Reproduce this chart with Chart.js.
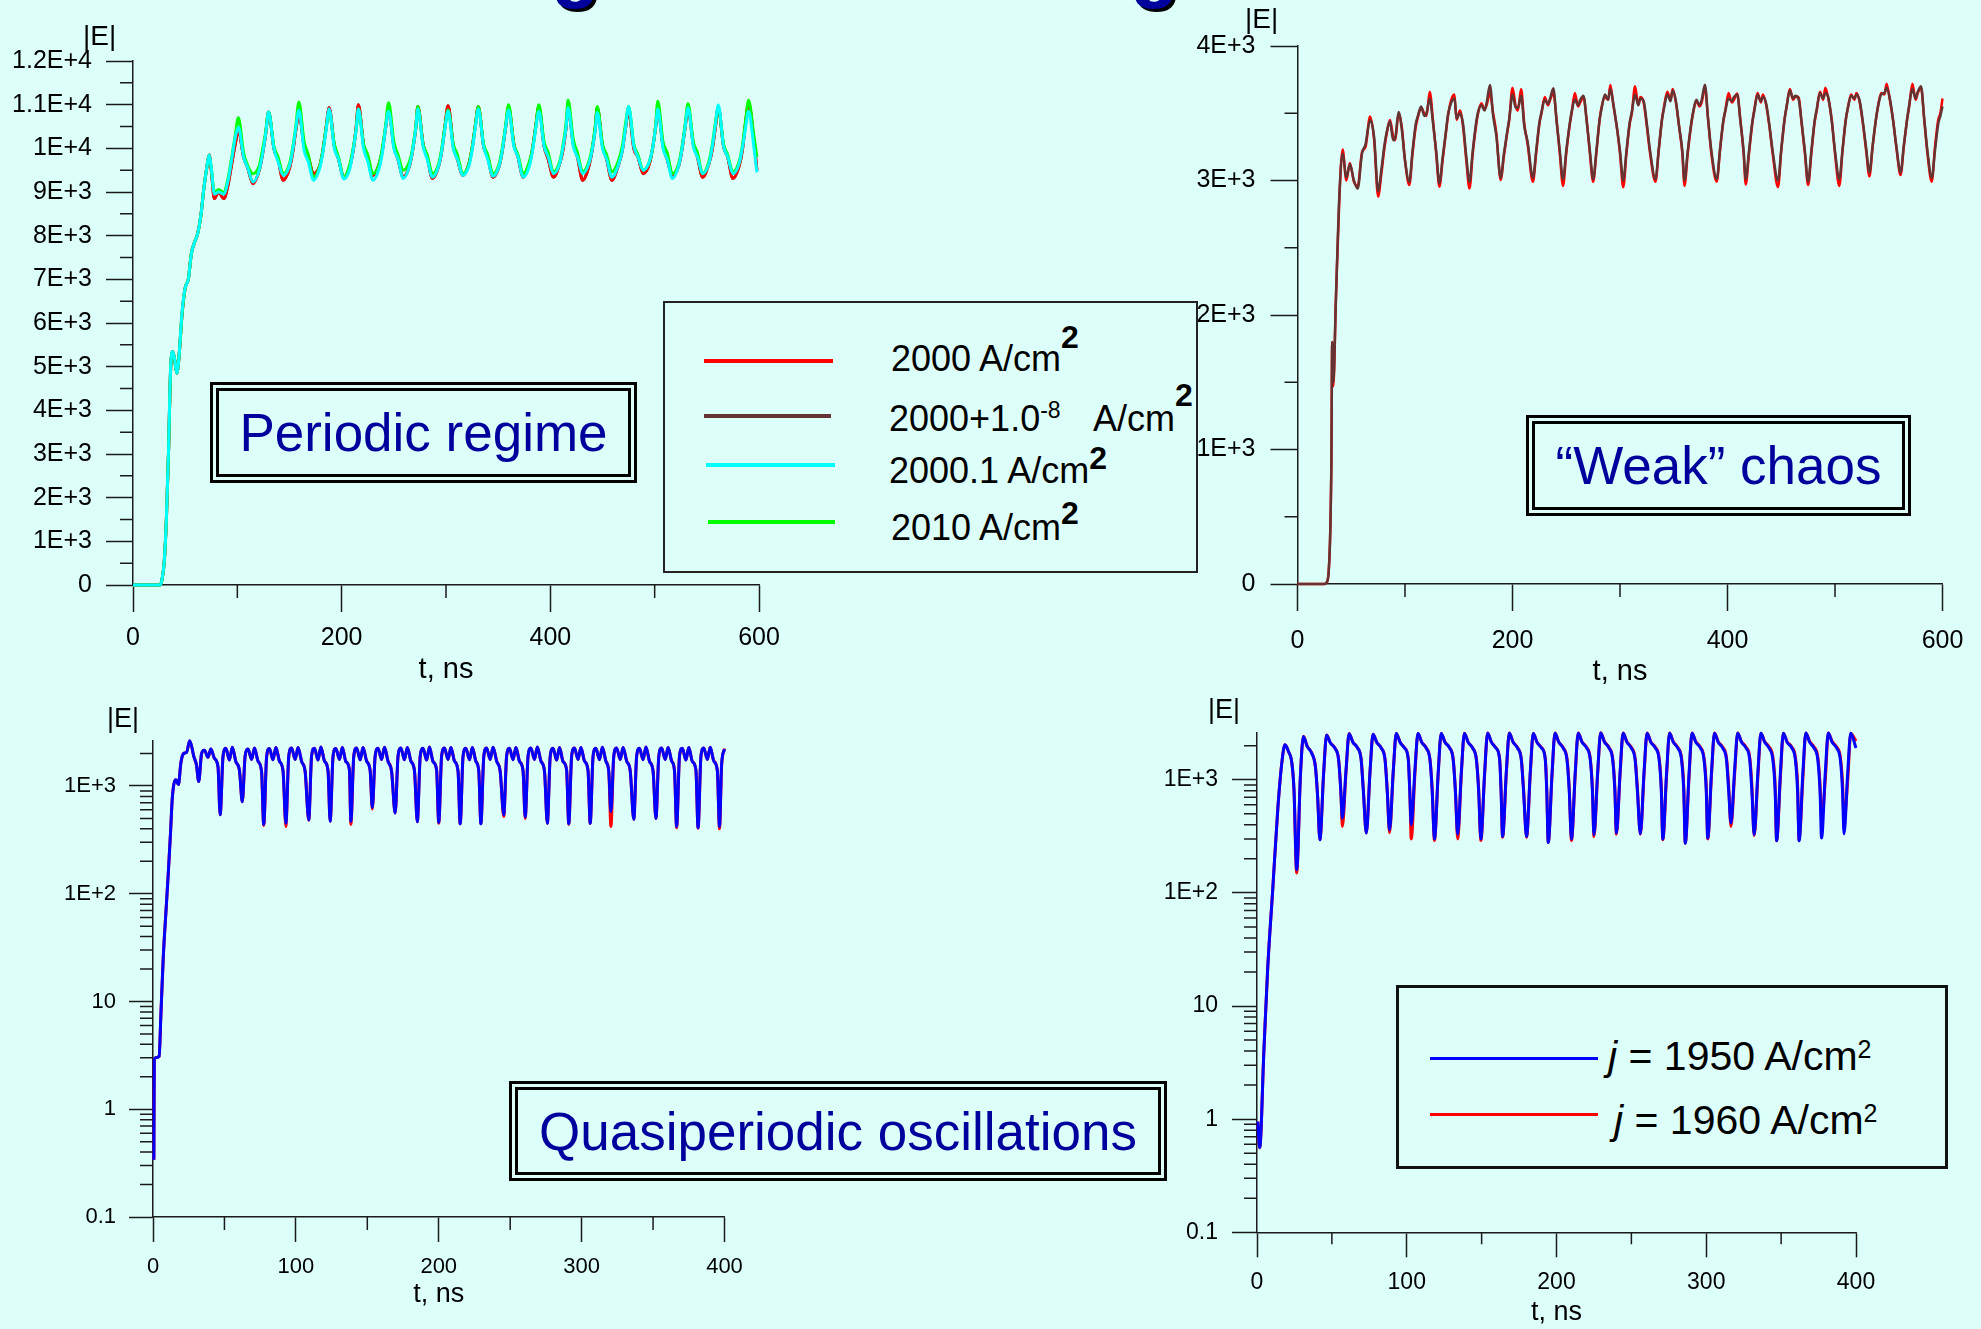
<!DOCTYPE html>
<html>
<head>
<meta charset="utf-8">
<title>|E|(t) regimes</title>
<script src="https://cdn.jsdelivr.net/npm/chart.js@4.4.1/dist/chart.umd.min.js"></script>
<style>
  html, body { margin: 0; padding: 0; }
  body {
    width: 1981px; height: 1329px; position: relative; overflow: hidden;
    background: #ddfff9; color: #000;
    font-family: 'Liberation Sans', Arial, sans-serif;
  }
  canvas { position: absolute; z-index: 1; }
  .txt { position: absolute; white-space: nowrap; line-height: 1; z-index: 4; }
  .sup { position: relative; vertical-align: baseline; }
  .note {
    position: absolute; box-sizing: border-box; z-index: 2;
    border: 9px double #000; background: #ddfff9; color: #00009c;
    font-size: 53px; white-space: nowrap;
    display: flex; align-items: center; justify-content: center;
  }
  .legend { position: absolute; box-sizing: border-box; z-index: 3; background: #ddfff9; }
  .swatch { position: absolute; z-index: 4; }
  .frag {
    position: absolute; top: -75px; font-size: 80px; line-height: 1; font-weight: bold;
    color: #00009c; text-shadow: 3px 3px 0 #000;
  }
</style>
</head>
<body>

<!-- bottoms of the cut-off page title -->
<div class="frag" style="left:551px">g</div>
<div class="frag" style="left:1130px">g</div>

<canvas id="p1" width="820" height="700" style="left:0px;top:0px"></canvas>
<canvas id="p2" width="831" height="700" style="left:1150px;top:0px"></canvas>
<canvas id="p3" width="800" height="639" style="left:0px;top:690px"></canvas>
<canvas id="p4" width="831" height="640" style="left:1150px;top:690px"></canvas>

<!-- |E| axis names -->
<div class="txt" style="left:83px;top:22px;font-size:28px">|E|</div>
<div class="txt" style="left:1245px;top:5px;font-size:28px">|E|</div>
<div class="txt" style="left:107px;top:705px;font-size:27px">|E|</div>
<div class="txt" style="left:1208px;top:696px;font-size:27px">|E|</div>

<!-- regime labels -->
<div class="note" style="left:210px;top:382px;width:427px;height:101px">Periodic regime</div>
<div class="note" style="left:1526px;top:415px;width:385px;height:101px">“Weak” chaos</div>
<div class="note" style="left:509px;top:1081px;width:658px;height:100px">Quasiperiodic oscillations</div>

<!-- legend, top-left panel -->
<div class="legend" style="left:663px;top:301px;width:535px;height:272px;border:2px solid #222"></div>
<div class="swatch" style="left:704px;top:359px;width:129px;height:4px;background:#ff0000"></div>
<div class="swatch" style="left:704px;top:414px;width:127px;height:4px;background:#663333"></div>
<div class="swatch" style="left:706px;top:463px;width:129px;height:4px;background:#00ffff"></div>
<div class="swatch" style="left:708px;top:520px;width:127px;height:4px;background:#00ff00"></div>
<div class="txt" style="left:891px;top:341px;font-size:36px">2000 A/cm<span class="sup" style="font-size:32px;font-weight:bold;top:-23px">2</span></div>
<div class="txt" style="left:889px;top:401px;font-size:36px">2000+1.0<span class="sup" style="font-size:23px;top:-13px">-8</span></div>
<div class="txt" style="left:1093px;top:401px;font-size:36px">A/cm<span class="sup" style="font-size:32px;font-weight:bold;top:-25px">2</span></div>
<div class="txt" style="left:889px;top:453px;font-size:36px">2000.1 A/cm<span class="sup" style="font-size:32px;font-weight:bold;top:-14px">2</span></div>
<div class="txt" style="left:891px;top:510px;font-size:36px">2010 A/cm<span class="sup" style="font-size:32px;font-weight:bold;top:-16px">2</span></div>

<!-- legend, bottom-right panel -->
<div class="legend" style="left:1396px;top:985px;width:552px;height:184px;border:3px solid #111"></div>
<div class="swatch" style="left:1430px;top:1057px;width:168px;height:3px;background:#0000ff"></div>
<div class="swatch" style="left:1430px;top:1113px;width:168px;height:3px;background:#ff0000"></div>
<div class="txt" style="left:1608px;top:1036px;font-size:41px"><i>j</i> = 1950 A/cm<span class="sup" style="font-size:25px;top:-12px">2</span></div>
<div class="txt" style="left:1614px;top:1100px;font-size:41px"><i>j</i> = 1960 A/cm<span class="sup" style="font-size:25px;top:-12px">2</span></div>

<script>
// ---------- top-left: periodic regime ----------
const p1Time = [
    0, 20, 26, 28, 30, 32, 34, 36, 38, 40, 42, 44, 47, 50, 53, 56, 59, 62, 65, 68, 71, 73, 75, 78, 82, 87, 91, 95, 98,
    101, 106, 110, 115, 121, 124, 127,
    130, 135, 139, 144, 150, 153, 156,
    159, 164, 168, 173, 179, 182, 185,
    188, 193, 197, 202, 208, 211, 214,
    216, 221, 225, 230, 236, 239, 242,
    245, 250, 254, 259, 265, 268, 271,
    273, 278, 282, 287, 293, 296, 299,
    302, 307, 311, 316, 322, 325, 328,
    331, 336, 340, 345, 351, 354, 357,
    360, 365, 369, 374, 380, 383, 386,
    389, 394, 398, 403, 409, 412, 415,
    417, 422, 426, 431, 437, 440, 443,
    445, 450, 454, 459, 465, 469, 472,
    475, 480, 484, 489, 495, 498, 501,
    503, 508, 512, 517, 523, 526, 529,
    532, 537, 541, 546, 552, 555, 558,
    561, 566, 570, 575, 581, 584, 587,
    590, 595, 598
];
const p1Red = [
    0, 0, 0, 150, 550, 1500, 3000, 4900, 5350, 5150, 4850, 5200, 6200, 6800, 7000, 7600, 7850, 8050, 8450, 9100, 9600, 9850, 9500, 8850, 9000, 8850, 9150, 9700, 10100,
    10412, 9800, 9550, 9190, 9500, 9850, 10300,
    10830, 10000, 9750, 9270, 9550, 9900, 10400,
    10800, 10050, 9800, 9420, 9600, 9950, 10450,
    10930, 10050, 9750, 9340, 9600, 9950, 10500,
    11000, 10070, 9800, 9380, 9650, 9950, 10450,
    10870, 10050, 9750, 9340, 9600, 9950, 10450,
    10960, 10100, 9800, 9310, 9600, 9950, 10500,
    10975, 10050, 9750, 9380, 9650, 10000, 10500,
    10950, 10050, 9800, 9340, 9600, 9950, 10450,
    10930, 10100, 9800, 9340, 9650, 10000, 10500,
    10950, 10050, 9750, 9340, 9650, 9950, 10450,
    10930, 10100, 9800, 9270, 9600, 9950, 10450,
    10930, 10050, 9750, 9270, 9600, 9950, 10450,
    10870, 10000, 9800, 9420, 9650, 10000, 10500,
    10930, 10050, 9750, 9380, 9600, 9950, 10450,
    10900, 10100, 9800, 9340, 9650, 9950, 10450,
    10930, 10050, 9800, 9310, 9600, 9950, 10550,
    11030, 10200, 9500
];
// 2000 + 1e-8 A/cm2 coincides with the red curve everywhere on this scale
const p1Brown = p1Red;
const p1Cyan = [
    0, 0, 0, 150, 560, 1520, 3050, 4950, 5350, 5150, 4850, 5200, 6250, 6800, 7000, 7600, 7850, 8050, 8450, 9100, 9600, 9850, 9550, 8950, 9000, 8950, 9250, 9800, 10250,
    10490, 9800, 9550, 9230, 9500, 9850, 10300,
    10830, 10000, 9700, 9380, 9600, 9950, 10450,
    10870, 9950, 9700, 9270, 9550, 9900, 10400,
    10900, 10000, 9750, 9300, 9550, 9950, 10450,
    10900, 10000, 9700, 9270, 9550, 9900, 10450,
    10850, 10000, 9750, 9310, 9600, 9950, 10450,
    10900, 10050, 9750, 9340, 9600, 9950, 10450,
    10855, 10000, 9750, 9380, 9600, 9950, 10450,
    10900, 10050, 9750, 9360, 9600, 9950, 10450,
    10880, 10050, 9800, 9340, 9600, 9950, 10450,
    10850, 10050, 9800, 9420, 9650, 10000, 10450,
    10930, 10050, 9800, 9420, 9650, 9950, 10400,
    10820, 10000, 9750, 9340, 9600, 9950, 10450,
    10960, 10050, 9800, 9500, 9700, 10000, 10500,
    10900, 10000, 9750, 9310, 9600, 9950, 10450,
    10930, 10050, 9800, 9420, 9650, 10000, 10500,
    10990, 10050, 9800, 9420, 9650, 10000, 10450,
    10850, 10050, 9450
];
const p1Green = [
    0, 0, 0, 150, 550, 1500, 3000, 4900, 5350, 5150, 4850, 5200, 6200, 6800, 7000, 7600, 7850, 8050, 8450, 9100, 9600, 9850, 9550, 9000, 9050, 9000, 9300, 9850, 10300,
    10700, 9900, 9600, 9420, 9600, 9950, 10350,
    10830, 10050, 9800, 9420, 9650, 10000, 10500,
    11060, 10150, 9850, 9340, 9600, 9950, 10450,
    10830, 10100, 9800, 9340, 9650, 10000, 10450,
    10900, 10100, 9850, 9420, 9650, 10000, 10500,
    11045, 10150, 9850, 9500, 9700, 10000, 10500,
    10960, 10100, 9850, 9420, 9650, 10000, 10500,
    10880, 10100, 9850, 9420, 9650, 10000, 10500,
    10950, 10100, 9850, 9420, 9650, 10000, 10500,
    11000, 10100, 9850, 9420, 9700, 10000, 10500,
    11000, 10150, 9900, 9460, 9700, 10050, 10550,
    11100, 10200, 9900, 9460, 9700, 10000, 10500,
    10960, 10100, 9850, 9460, 9700, 10050, 10550,
    10960, 10100, 9850, 9500, 9700, 10000, 10550,
    11080, 10150, 9900, 9420, 9650, 10000, 10500,
    11020, 10150, 9900, 9420, 9700, 10050, 10550,
    10930, 10100, 9850, 9460, 9700, 10050, 10600,
    11100, 10300, 9800
];
const p1XTicks = [0, 200, 400, 600];
const p1XMinor = [100, 300, 500];
const p1YTicks = [0, 1000, 2000, 3000, 4000, 5000, 6000, 7000, 8000, 9000, 10000, 11000, 12000];
const p1YLabels = ['0', '1E+3', '2E+3', '3E+3', '4E+3', '5E+3', '6E+3', '7E+3', '8E+3', '9E+3', '1E+4', '1.1E+4', '1.2E+4'];
const p1YMinor = [500, 1500, 2500, 3500, 4500, 5500, 6500, 7500, 8500, 9500, 10500, 11500];

// ---------- top-right: "weak" chaos ----------
const p2Time = [
    0, 22, 25, 27, 29, 30.5, 31.5, 32.3, 33.3, 35.7, 39, 42, 45.4, 48.7, 52.5, 56, 60, 63.3, 67.5, 71.3,
    75, 78, 81, 83, 86, 89, 91, 94, 97, 100,
    104, 107, 110, 112, 115, 118, 120, 123, 126, 129,
    132, 135, 138, 140, 143, 146, 148, 151, 154, 157,
    160, 163, 166, 168, 171, 174, 176, 179, 182, 185,
    189, 192, 195, 197, 200, 203, 205, 208, 211, 214,
    219, 222, 225, 227, 230, 233, 235, 238, 241, 244,
    247, 250, 253, 255, 258, 261, 263, 266, 269, 272,
    275, 278, 281, 283, 286, 289, 291, 294, 297, 300,
    303, 306, 309, 311, 314, 317, 319, 322, 325, 328,
    333, 336, 339, 341, 344, 347, 349, 352, 355, 358,
    360, 363, 366, 368, 371, 374, 376, 379, 382, 385,
    390, 393, 396, 398, 401, 404, 406, 409, 412, 415,
    417, 420, 423, 425, 428, 431, 433, 436, 439, 442,
    447, 450, 453, 455, 458, 461, 463, 466, 469, 472,
    475, 478, 481, 483, 486, 489, 491, 494, 497, 500,
    504, 507, 510, 512, 515, 518, 520, 523, 526, 529,
    532, 535, 538, 540, 543, 546, 548, 551, 554, 557,
    561, 564, 567, 569, 572, 575, 577, 580, 583, 586,
    590, 593, 596, 598, 600
];
const p2Red = [
    0, 0, 0, 10, 90, 400, 900, 1800, 1470, 2110, 2880, 3230, 3000, 3130, 2990, 2960, 3210, 3250, 3475, 3300,
    2880, 3050, 3250, 3350, 3450, 3330, 3300, 3500, 3400, 3150,
    2966, 3200, 3400, 3470, 3540, 3500, 3480, 3660, 3450, 3200,
    2954, 3150, 3350, 3480, 3600, 3640, 3450, 3520, 3400, 3150,
    2940, 3200, 3400, 3500, 3575, 3530, 3560, 3650, 3500, 3350,
    3004, 3180, 3350, 3450, 3690, 3550, 3520, 3680, 3420, 3275,
    2990, 3200, 3420, 3500, 3620, 3560, 3600, 3650, 3450, 3200,
    2960, 3200, 3400, 3500, 3650, 3550, 3580, 3620, 3450, 3200,
    2990, 3200, 3450, 3550, 3620, 3600, 3710, 3550, 3400, 3200,
    2950, 3200, 3420, 3500, 3700, 3560, 3620, 3580, 3400, 3200,
    2990, 3220, 3450, 3550, 3660, 3600, 3680, 3580, 3400, 3200,
    2960, 3200, 3400, 3500, 3590, 3550, 3580, 3690, 3450, 3200,
    2990, 3220, 3430, 3520, 3650, 3580, 3600, 3647, 3450, 3200,
    2970, 3200, 3420, 3530, 3650, 3580, 3640, 3560, 3400, 3200,
    2950, 3220, 3450, 3550, 3680, 3600, 3620, 3620, 3420, 3200,
    2966, 3200, 3430, 3520, 3660, 3600, 3690, 3600, 3450, 3200,
    2960, 3220, 3450, 3540, 3640, 3600, 3650, 3580, 3420, 3220,
    3030, 3250, 3450, 3550, 3650, 3640, 3720, 3600, 3450, 3250,
    3040, 3250, 3450, 3550, 3720, 3600, 3650, 3690, 3450, 3200,
    2990, 3250, 3450, 3500, 3610
];
const p2Brown = [
    0, 0, 0, 10, 90, 400, 900, 1800, 1500, 2110, 2900, 3200, 3020, 3120, 3000, 2940, 3200, 3270, 3450, 3320,
    2920, 3080, 3270, 3360, 3440, 3300, 3320, 3510, 3380, 3150,
    2990, 3220, 3420, 3480, 3550, 3480, 3500, 3610, 3430, 3220,
    2980, 3170, 3360, 3490, 3580, 3610, 3460, 3500, 3420, 3180,
    2990, 3220, 3420, 3510, 3560, 3520, 3580, 3710, 3480, 3330,
    3020, 3200, 3360, 3460, 3640, 3540, 3540, 3630, 3400, 3290,
    3020, 3220, 3430, 3510, 3600, 3570, 3610, 3685, 3440, 3220,
    3010, 3220, 3410, 3510, 3600, 3560, 3600, 3630, 3440, 3220,
    3010, 3220, 3450, 3540, 3640, 3600, 3680, 3560, 3400, 3220,
    3000, 3220, 3430, 3510, 3640, 3560, 3610, 3590, 3420, 3220,
    3010, 3230, 3450, 3540, 3640, 3590, 3670, 3590, 3400, 3220,
    3000, 3220, 3410, 3510, 3600, 3560, 3600, 3711, 3450, 3220,
    3010, 3230, 3440, 3520, 3610, 3590, 3620, 3640, 3440, 3220,
    3010, 3220, 3430, 3520, 3640, 3590, 3620, 3570, 3410, 3220,
    3000, 3230, 3450, 3550, 3670, 3610, 3630, 3610, 3430, 3220,
    2990, 3220, 3440, 3530, 3650, 3610, 3650, 3610, 3440, 3220,
    3010, 3230, 3450, 3540, 3630, 3610, 3640, 3590, 3430, 3240,
    3060, 3260, 3450, 3550, 3640, 3650, 3690, 3610, 3450, 3260,
    3060, 3260, 3450, 3560, 3680, 3610, 3660, 3700, 3460, 3220,
    3020, 3220, 3420, 3480, 3550
];
const p2XTicks = [0, 200, 400, 600];
const p2XMinor = [100, 300, 500];
const p2YTicks = [0, 1000, 2000, 3000, 4000];
const p2YLabels = ['0', '1E+3', '2E+3', '3E+3', '4E+3'];
const p2YMinor = [500, 1500, 2500, 3500];

// ---------- bottom-left: quasiperiodic oscillations ----------
const p3Time = [
    0.6, 0.9, 1.8, 4.3, 5.5, 7.2, 9, 10.7, 12.2, 13.6, 16, 17.8, 19.5, 21.4, 23.5, 25.7, 28.6, 30.4,
    32, 34, 36, 38.5, 40.5, 43, 45.5,
    47, 49, 51, 53.5, 55.5, 58, 60.5,
    62.5, 64.5, 66.5, 69, 71, 73.5, 76,
    77.5, 79.5, 81.5, 84, 86, 88.5, 91,
    93, 95, 97, 99.5, 101.5, 104, 106.5,
    109, 111, 113, 115.5, 117.5, 120, 122.5,
    124, 126, 128, 130.5, 132.5, 135, 137.5,
    138.5, 140.5, 142.5, 145, 147, 149.5, 152,
    153.5, 155.5, 157.5, 160, 162, 164.5, 167,
    169.5, 171.5, 173.5, 176, 178, 180.5, 183,
    185, 187, 189, 191.5, 193.5, 196, 198.5,
    200, 202, 204, 206.5, 208.5, 211, 213.5,
    215, 217, 219, 221.5, 223.5, 226, 228,
    229.5, 231.5, 233.5, 236, 238, 240.5, 243,
    245.5, 247.5, 249.5, 252, 254, 256.5, 259,
    260.5, 262.5, 264.5, 267, 269, 271.5, 274,
    276, 278, 280, 282.5, 284.5, 287, 289.5,
    291, 293, 295, 297.5, 299.5, 302, 304.5,
    306, 308, 310, 312.5, 314.5, 317, 319,
    320.5, 322.5, 324.5, 327, 329, 331.5, 334,
    336.5, 338.5, 340.5, 343, 345, 347.5, 350,
    352, 354, 356, 358.5, 360.5, 363, 365,
    366.5, 368.5, 370.5, 373, 375, 377.5, 380,
    381.5, 383.5, 385.5, 388, 390, 392.5, 395,
    396.5, 398, 400
];
const p3Blue = [
    0.34, 2.9, 3.0, 3.1, 7.4, 26, 66, 155, 355, 800, 1140, 1030, 1630, 2000, 2050, 2630, 1870, 1570,
    1100, 2000, 2150, 1850, 2200, 1800, 1500,
    540, 1870, 2240, 1740, 2290, 1680, 1400,
    715, 1900, 2200, 1760, 2250, 1700, 1350,
    440, 1850, 2230, 1750, 2280, 1700, 1380,
    450, 1880, 2250, 1760, 2270, 1690, 1350,
    485, 1900, 2240, 1740, 2300, 1700, 1380,
    470, 1870, 2230, 1760, 2280, 1680, 1400,
    470, 1880, 2250, 1750, 2270, 1700, 1380,
    630, 1900, 2240, 1760, 2290, 1690, 1360,
    560, 1880, 2250, 1750, 2280, 1700, 1380,
    465, 1870, 2240, 1740, 2300, 1680, 1400,
    460, 1890, 2250, 1760, 2280, 1700, 1370,
    445, 1880, 2240, 1750, 2270, 1690, 1380,
    445, 1870, 2250, 1760, 2290, 1700, 1360,
    540, 1900, 2240, 1750, 2280, 1690, 1380,
    515, 1880, 2250, 1760, 2300, 1700, 1370,
    450, 1870, 2240, 1740, 2280, 1680, 1400,
    445, 1890, 2250, 1760, 2270, 1700, 1380,
    450, 1880, 2240, 1750, 2290, 1690, 1360,
    580, 1900, 2250, 1760, 2280, 1700, 1380,
    490, 1880, 2240, 1750, 2300, 1690, 1370,
    500, 1870, 2250, 1760, 2280, 1700, 1380,
    420, 1890, 2240, 1740, 2270, 1680, 1400,
    410, 1880, 2250, 1760, 2290, 1700, 1380,
    420, 1600, 2200
];
const p3Red = [
    0.34, 2.9, 3.0, 3.1, 7.4, 26, 66, 155, 355, 800, 1140, 1030, 1630, 2000, 2050, 2630, 1870, 1570,
    1100, 2000, 2150, 1850, 2200, 1800, 1500,
    540, 1870, 2240, 1740, 2290, 1680, 1400,
    715, 1900, 2200, 1760, 2250, 1700, 1350,
    430, 1840, 2230, 1750, 2280, 1700, 1380,
    420, 1860, 2250, 1760, 2270, 1690, 1360,
    480, 1890, 2240, 1740, 2300, 1710, 1390,
    470, 1860, 2230, 1760, 2280, 1690, 1410,
    440, 1860, 2250, 1750, 2270, 1710, 1390,
    610, 1890, 2240, 1760, 2290, 1700, 1370,
    560, 1870, 2250, 1750, 2280, 1710, 1390,
    465, 1860, 2240, 1740, 2300, 1690, 1410,
    450, 1880, 2250, 1760, 2280, 1710, 1380,
    445, 1870, 2240, 1750, 2270, 1700, 1390,
    445, 1860, 2250, 1760, 2290, 1710, 1370,
    520, 1890, 2240, 1750, 2280, 1700, 1390,
    500, 1870, 2250, 1760, 2300, 1710, 1380,
    450, 1860, 2240, 1740, 2280, 1690, 1410,
    440, 1880, 2250, 1760, 2270, 1710, 1390,
    450, 1870, 2240, 1750, 2290, 1700, 1370,
    420, 1860, 2250, 1760, 2280, 1710, 1390,
    490, 1870, 2240, 1750, 2300, 1700, 1380,
    500, 1860, 2250, 1760, 2280, 1710, 1390,
    410, 1880, 2240, 1740, 2270, 1690, 1410,
    405, 1870, 2250, 1760, 2290, 1710, 1390,
    400, 1550, 2230
];
const p3XTicks = [0, 100, 200, 300, 400];
const p3XMinor = [50, 150, 250, 350];
const logYTicks = [0.1, 1, 10, 100, 1000];
const logYLabels = ['0.1', '1', '10', '1E+2', '1E+3'];
const logYMinor = [0.2, 0.3, 0.4, 0.5, 0.6, 0.7, 0.8, 0.9, 2, 3, 4, 5, 6, 7, 8, 9,
    20, 30, 40, 50, 60, 70, 80, 90, 200, 300, 400, 500, 600, 700, 800, 900, 2000];

// ---------- bottom-right: j = 1950 / 1960 A/cm2 ----------
const p4Time = [
    0.5, 1.8, 4.6, 7.1, 10.5, 14, 16.8, 18.7, 21, 23.3, 24.7,
    26.5, 29, 31, 33.5, 36.5, 39, 40.5,
    42, 44.5, 46.5, 49, 52, 54.5, 56,
    57, 59.5, 61.5, 64, 67, 69.5, 71,
    73, 75.5, 77.5, 80, 83, 85.5, 87,
    88.5, 91, 93, 95.5, 98.5, 101, 102,
    103, 105.5, 107.5, 110, 113, 115.5, 117,
    118.5, 121, 123, 125.5, 128.5, 131, 132.5,
    134, 136.5, 138.5, 141, 144, 146.5, 148,
    149.5, 152, 154, 156.5, 159.5, 162, 163,
    164, 166.5, 168.5, 171, 174, 176.5, 178,
    180, 182.5, 184.5, 187, 190, 192.5, 193.5,
    194.5, 197, 199, 201.5, 204.5, 207, 208.5,
    210, 212.5, 214.5, 217, 220, 222.5, 224,
    225, 227.5, 229.5, 232, 235, 237.5, 239,
    240, 242.5, 244.5, 247, 250, 252.5, 254,
    256, 258.5, 260.5, 263, 266, 268.5, 270,
    271, 273.5, 275.5, 278, 281, 283.5, 285,
    286, 288.5, 290.5, 293, 296, 298.5, 300,
    301, 303.5, 305.5, 308, 311, 313.5, 315,
    316.5, 319, 321, 323.5, 326.5, 329, 330.5,
    332, 334.5, 336.5, 339, 342, 344.5, 346,
    347, 349.5, 351.5, 354, 357, 359.5, 361,
    362, 364.5, 366.5, 369, 372, 374.5, 376,
    377, 379.5, 381.5, 384, 387, 389.5, 391,
    392, 394.5, 396.5, 400
];
const p4Blue = [
    0.95, 0.56, 4, 21, 107, 580, 1500, 2040, 1780, 1400, 816,
    160, 1100, 2415, 1970, 1720, 1300, 700,
    295, 1150, 2480, 2110, 1900, 1500, 780,
    458, 1250, 2550, 2150, 1920, 1520, 800,
    338, 1200, 2520, 2130, 1900, 1500, 780,
    361, 1200, 2560, 2150, 1910, 1520, 800,
    400, 1250, 2560, 2140, 1900, 1500, 790,
    299, 1150, 2560, 2150, 1920, 1510, 780,
    330, 1200, 2570, 2140, 1900, 1500, 800,
    299, 1150, 2580, 2150, 1910, 1520, 780,
    315, 1180, 2580, 2150, 1900, 1500, 790,
    315, 1180, 2560, 2140, 1910, 1510, 780,
    279, 1120, 2580, 2150, 1900, 1500, 800,
    299, 1150, 2580, 2150, 1920, 1520, 790,
    327, 1180, 2590, 2160, 1910, 1510, 780,
    338, 1200, 2580, 2150, 1900, 1500, 800,
    333, 1200, 2580, 2140, 1910, 1520, 790,
    299, 1150, 2580, 2150, 1900, 1500, 780,
    275, 1120, 2580, 2150, 1920, 1510, 800,
    305, 1160, 2580, 2140, 1900, 1500, 790,
    414, 1250, 2580, 2150, 1910, 1520, 780,
    327, 1180, 2580, 2150, 1900, 1500, 800,
    289, 1140, 2580, 2140, 1920, 1510, 790,
    289, 1140, 2590, 2150, 1900, 1500, 780,
    305, 1160, 2590, 2150, 1910, 1520, 800,
    333, 1180, 2580, 1905
];
const p4Red = [
    0.95, 0.56, 4, 21, 107, 580, 1500, 2040, 1780, 1400, 816,
    150, 1080, 2420, 1980, 1730, 1310, 710,
    295, 1140, 2490, 2120, 1910, 1510, 790,
    386, 1200, 2560, 2160, 1930, 1540, 830,
    338, 1190, 2530, 2140, 1910, 1520, 800,
    340, 1180, 2570, 2160, 1920, 1540, 830,
    300, 1150, 2570, 2150, 1910, 1520, 820,
    290, 1130, 2570, 2160, 1930, 1530, 810,
    300, 1150, 2580, 2150, 1910, 1530, 840,
    290, 1120, 2590, 2160, 1920, 1550, 820,
    310, 1150, 2590, 2160, 1920, 1530, 830,
    310, 1140, 2570, 2150, 1930, 1540, 830,
    279, 1090, 2590, 2160, 1920, 1540, 850,
    290, 1110, 2590, 2170, 1940, 1560, 840,
    315, 1130, 2600, 2180, 1930, 1550, 840,
    330, 1140, 2590, 2170, 1930, 1550, 860,
    330, 1140, 2590, 2160, 1940, 1570, 860,
    295, 1090, 2590, 2170, 1930, 1560, 860,
    275, 1060, 2590, 2180, 1950, 1570, 880,
    300, 1090, 2590, 2170, 1940, 1570, 880,
    386, 1150, 2590, 2180, 1950, 1590, 880,
    320, 1080, 2580, 2180, 1950, 1580, 900,
    289, 1040, 2580, 2170, 1960, 1590, 900,
    289, 1020, 2590, 2190, 1950, 1590, 900,
    443, 1000, 2590, 2190, 1960, 1610, 940,
    428, 1000, 2560, 2200
];
const p4XTicks = [0, 100, 200, 300, 400];
const p4XMinor = [50, 150, 250, 350];

// ---------- drawing ----------
const axisColor = '#1a1a1a';
const fontFamily = "'Liberation Sans', Arial, sans-serif";

Chart.defaults.color = '#000';
Chart.defaults.font.family = fontFamily;

// Short unlabeled ticks between the labeled ones
const minorTicks = {
    id: 'minorTicks',
    afterDraw: (chart, args, opts) => {
        const ctx = chart.ctx;
        const area = chart.chartArea;
        const xs = chart.scales.x;
        const ys = chart.scales.y;
        ctx.save();
        ctx.strokeStyle = axisColor;
        ctx.lineWidth = 1.5;
        ctx.beginPath();
        opts.x.forEach(v => {
            const px = xs.getPixelForValue(v);
            ctx.moveTo(px, area.bottom);
            ctx.lineTo(px, area.bottom + opts.xLen);
        });
        opts.y.forEach(v => {
            const py = ys.getPixelForValue(v);
            ctx.moveTo(area.left, py);
            ctx.lineTo(area.left - opts.yLen, py);
        });
        ctx.stroke();
        ctx.restore();
    }
};

const points = (times, values) => times.map((t, i) => ({ x: t, y: values[i] }));

const buildPanel = (id, p) => {
    return new Chart(document.getElementById(id), {
        type: 'line',
        data: {
            datasets: p.series.map(s => ({
                data: points(p.time, s.values),
                borderColor: s.color,
                borderWidth: p.lineWidth,
                pointRadius: 0,
                fill: false,
                clip: false,
                cubicInterpolationMode: 'monotone'
            }))
        },
        options: {
            responsive: false,
            animation: false,
            devicePixelRatio: 1,
            events: [],
            layout: { padding: p.padding },
            plugins: {
                legend: { display: false },
                tooltip: { enabled: false },
                minorTicks: { x: p.xMinor, y: p.yMinor, xLen: p.xMinorLen, yLen: p.yMinorLen }
            },
            scales: {
                x: {
                    type: 'linear',
                    min: p.xTicks[0],
                    max: p.xTicks[p.xTicks.length - 1],
                    bounds: 'data',
                    afterBuildTicks: s => { s.ticks = p.xTicks.map(v => ({ value: v })); },
                    afterFit: s => { s.height = p.xAxisHeight; },
                    ticks: {
                        autoSkip: false, maxRotation: 0, color: '#000',
                        padding: p.xLabelPad,
                        font: { family: fontFamily, size: p.xFont },
                        callback: (v, i) => String(p.xTicks[i])
                    },
                    grid: {
                        display: true, drawOnChartArea: false, drawTicks: true,
                        tickLength: p.xTickLen, tickWidth: 1.5, tickColor: axisColor
                    },
                    border: { display: true, color: axisColor, width: 1.5 },
                    title: {
                        display: true, text: 't, ns', color: '#000', padding: 0,
                        font: { family: fontFamily, size: p.titleFont }
                    }
                },
                y: {
                    type: p.yType,
                    min: p.yMin,
                    max: p.yMax,
                    bounds: 'data',
                    afterBuildTicks: s => { s.ticks = p.yTicks.map(v => ({ value: v })); },
                    afterFit: s => { s.width = p.yAxisWidth; },
                    ticks: {
                        autoSkip: false, color: '#000',
                        padding: p.yLabelPad,
                        font: { family: fontFamily, size: p.yFont },
                        callback: (v, i) => p.yLabels[i]
                    },
                    grid: {
                        display: true, drawOnChartArea: false, drawTicks: true,
                        tickLength: p.yTickLen, tickWidth: 1.5, tickColor: axisColor
                    },
                    border: { display: true, color: axisColor, width: 1.5 }
                }
            }
        },
        plugins: [minorTicks]
    });
};

// the first series is drawn on top
buildPanel('p1', {
    time: p1Time,
    series: [
        { values: p1Cyan, color: '#00ffff' },
        { values: p1Green, color: '#00ff00' },
        { values: p1Red, color: '#ff0000' },
        { values: p1Brown, color: '#663333' }
    ],
    lineWidth: 3,
    padding: { left: 0, top: 61, right: 61, bottom: 12.6 },
    xTicks: p1XTicks, xMinor: p1XMinor,
    yType: 'linear', yMin: 0, yMax: 12000,
    yTicks: p1YTicks, yLabels: p1YLabels, yMinor: p1YMinor,
    xAxisHeight: 102.4, yAxisWidth: 133,
    xTickLen: 27, yTickLen: 27, xMinorLen: 13, yMinorLen: 13,
    xLabelPad: 11, yLabelPad: 14,
    xFont: 25, yFont: 25, titleFont: 29
});

buildPanel('p2', {
    time: p2Time,
    series: [
        { values: p2Brown, color: '#663333' },
        { values: p2Red, color: '#ff0000' }
    ],
    lineWidth: 2.5,
    padding: { left: 0, top: 46, right: 38.5, bottom: 10.9 },
    xTicks: p2XTicks, xMinor: p2XMinor,
    yType: 'linear', yMin: 0, yMax: 4000,
    yTicks: p2YTicks, yLabels: p2YLabels, yMinor: p2YMinor,
    xAxisHeight: 105.1, yAxisWidth: 147.5,
    xTickLen: 27, yTickLen: 27, xMinorLen: 13, yMinorLen: 13,
    xLabelPad: 14.7, yLabelPad: 15,
    xFont: 25, yFont: 25, titleFont: 29
});

buildPanel('p3', {
    time: p3Time,
    series: [
        { values: p3Blue, color: '#0000ff' },
        { values: p3Red, color: '#ff0000' }
    ],
    lineWidth: 3,
    padding: { left: 0, top: 50.7, right: 75.5, bottom: 17.8 },
    xTicks: p3XTicks, xMinor: p3XMinor,
    yType: 'logarithmic', yMin: 0.1, yMax: 2630,
    yTicks: logYTicks, yLabels: logYLabels, yMinor: logYMinor,
    xAxisHeight: 94.2, yAxisWidth: 153,
    xTickLen: 25, yTickLen: 24, xMinorLen: 13, yMinorLen: 13,
    xLabelPad: 11.5, yLabelPad: 13,
    xFont: 22, yFont: 22, titleFont: 27
});

buildPanel('p4', {
    time: p4Time,
    series: [
        { values: p4Blue, color: '#0000ff' },
        { values: p4Red, color: '#ff0000' }
    ],
    lineWidth: 3,
    padding: { left: 0, top: 43, right: 125, bottom: 0.8 },
    xTicks: p4XTicks, xMinor: p4XMinor,
    yType: 'logarithmic', yMin: 0.1, yMax: 2590,
    yTicks: logYTicks, yLabels: logYLabels, yMinor: logYMinor,
    xAxisHeight: 96.9, yAxisWidth: 107,
    xTickLen: 25, yTickLen: 25, xMinorLen: 12, yMinorLen: 13,
    xLabelPad: 11.9, yLabelPad: 14,
    xFont: 23, yFont: 23, titleFont: 27
});
</script>
</body>
</html>
